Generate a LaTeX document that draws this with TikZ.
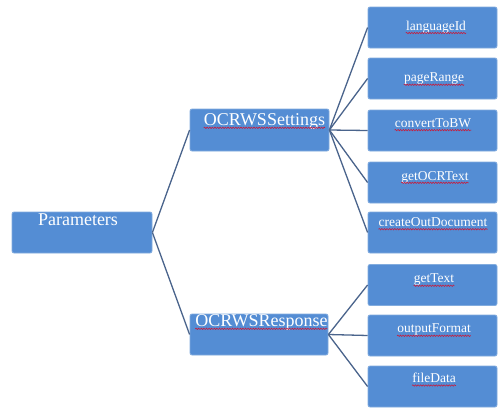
\documentclass[tikz,border=0pt]{standalone}
\usepackage{fontspec}
\setmainfont{Liberation Serif}
\usetikzlibrary{decorations.pathmorphing}
\definecolor{boxfill}{RGB}{84,141,212}
\definecolor{boxline}{RGB}{130,172,222}
\definecolor{connc}{RGB}{74,100,140}
\definecolor{squig}{RGB}{196,30,64}
\tikzset{
 box/.style={draw=boxline, line width=0.8pt, fill=boxfill, rounded corners=2pt, minimum width=#1, minimum height=41pt, inner sep=0pt},
 bigtxt/.style={text=white, font=\fontsize{18}{18}\selectfont, inner sep=0pt},
 smalltxt/.style={text=white, font=\fontsize{13.5}{13.5}\selectfont, inner sep=0pt},
 connline/.style={draw=connc, line width=1.3pt},
 squiggle/.style={draw=squig, line width=0.6pt, decorate, decoration={snake, amplitude=0.7pt, segment length=2.6pt}}
}
\begin{document}
\begin{tikzpicture}[x=1pt,y=-1pt]
\useasboundingbox[fill=white] (0,0) rectangle (499,410);
% boxes
\node[box=140pt] (par) at (82,232.5) {};
\node[box=139pt, minimum height=42pt] (set) at (259.5,130) {};
\node[box=138pt] (resp) at (259,334.5) {};
\node[box=129pt] (b1) at (432.5,27.5) {};
\node[box=129pt] (b2) at (432.5,78.5) {};
\node[box=129pt] (b3) at (432.5,130.5) {};
\node[box=129pt] (b4) at (432.5,182.5) {};
\node[box=129pt] (b5) at (432.5,232.5) {};
\node[box=129pt] (b6) at (432.5,285) {};
\node[box=129pt] (b7) at (432.5,335.5) {};
\node[box=129pt] (b8) at (432.5,386.5) {};
% connectors
\draw[connline] (par.east) -- (set.west);
\draw[connline] (par.east) -- (resp.west);
\foreach \b in {b1,b2,b3,b4,b5} \draw[connline] (set.east) -- (\b.west);
\foreach \b in {b6,b7,b8} \draw[connline] (resp.east) -- (\b.west);
% texts
\node[bigtxt] (part) at (78,220) {Parameters};
\node[bigtxt] (sett) at (264.5,121) {OCRWSSettings};
\node[bigtxt] (respt) at (261.5,322) {OCRWSResponse};
\node[smalltxt] (t1) at (436,27) {languageId};
\node[smalltxt] (t2) at (434,79) {pageRange};
\node[smalltxt] (t3) at (433,123) {convertToBW};
\node[smalltxt] (t4) at (435,177) {getOCRText};
\node[smalltxt] (t5) at (433,222) {createOutDocument};
\node[smalltxt] (t6) at (434,280) {getText};
\node[smalltxt] (t7) at (434,330) {outputFormat};
\node[smalltxt] (t8) at (434,378) {fileData};
% spell-check underlines
\foreach \t in {sett,respt,t1,t2,t3,t4,t5,t6,t7,t8}
  \draw[squiggle] ([yshift=-2.8pt]\t.base west) -- ([yshift=-2.8pt]\t.base east);
\end{tikzpicture}
\end{document}
